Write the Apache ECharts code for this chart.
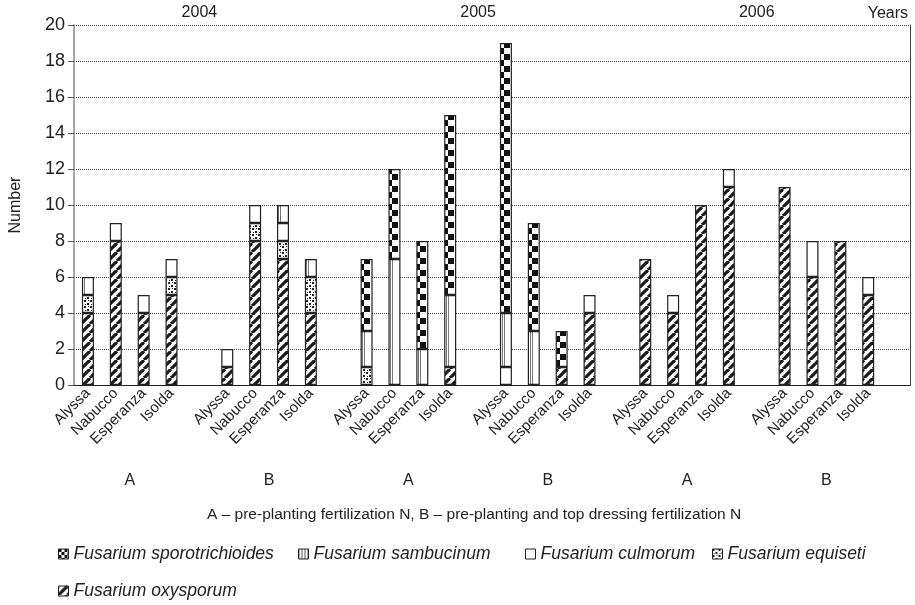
<!DOCTYPE html>
<html>
<head>
<meta charset="utf-8">
<script src="https://cdn.jsdelivr.net/npm/echarts@6/dist/echarts.min.js"></script>
<style>
    html, body { margin: 0; padding: 0; background: #fff; }
    #main { width: 915px; height: 605px; }
</style>
</head>
<body>
<div id="main"></div>
<script>
const cultivars = ['Alyssa', 'Nabucco', 'Esperanza', 'Isolda']
const groupLabels = ['A', 'B', 'A', 'B', 'A', 'B']
const yearLabels = ['2004', '2005', '2006']

// 6 groups x 4 cultivars: 2004 A, 2004 B, 2005 A, 2005 B, 2006 A, 2006 B
const oxysporum = [4, 8, 4, 5, 1, 8, 7, 4, 0, 0, 0, 1, 0, 0, 1, 4, 7, 4, 10, 11, 11, 6, 8, 5]
const equiseti = [1, 0, 0, 1, 0, 1, 1, 2, 1, 0, 0, 0, 0, 0, 0, 0, 0, 0, 0, 0, 0, 0, 0, 0]
const culmorum = [0, 1, 1, 1, 1, 1, 1, 0, 0, 0, 0, 0, 1, 0, 0, 1, 0, 1, 0, 1, 0, 2, 0, 1]
const sambucinum = [1, 0, 0, 0, 0, 0, 1, 1, 2, 7, 2, 4, 3, 3, 0, 0, 0, 0, 0, 0, 0, 0, 0, 0]
const sporotrichioides = [0, 0, 0, 0, 0, 0, 0, 0, 4, 5, 6, 10, 15, 6, 2, 0, 0, 0, 0, 0, 0, 0, 0, 0]

const yTicks = { min: 0, max: 20, interval: 2 }

function makePattern(w, h, draw) {
    const c = document.createElement('canvas')
    c.width = w
    c.height = h
    const ctx = c.getContext('2d')
    ctx.fillStyle = '#fff'
    ctx.fillRect(0, 0, w, h)
    draw(ctx)
    return { image: c, repeat: 'repeat' }
}

const stripes = makePattern(9, 9, ctx => {
    ctx.strokeStyle = '#1a1a1a'
    ctx.lineWidth = 3.2
    ;[-9, 0, 9].forEach(k => {
        ctx.beginPath()
        ctx.moveTo(k, 9)
        ctx.lineTo(k + 9, 0)
        ctx.stroke()
    })
})
const speckle = makePattern(6, 6, ctx => {
    ctx.fillStyle = '#222'
    ctx.fillRect(0, 0, 2, 2)
    ctx.fillRect(3, 3, 2, 2)
    ctx.fillRect(4, 0, 1, 1)
    ctx.fillRect(1, 4, 1, 1)
})
// bars sit at 78 + 28k, so these wide patterns line up with every bar
const checker = makePattern(28, 12, ctx => {
    ctx.fillStyle = '#111'
    ctx.fillRect(22, 0, 6, 6)
    ctx.fillRect(0, 6, 6, 6)
})
const vlines = makePattern(28, 4, ctx => {
    ctx.fillStyle = '#777'
    ctx.fillRect(0, 0, 1, 4)
    ctx.fillRect(26, 0, 1, 4)
})
const checkerIcon = makePattern(6, 6, ctx => {
    ctx.fillStyle = '#111'
    ctx.fillRect(0, 0, 3, 3)
    ctx.fillRect(3, 3, 3, 3)
})
const vlinesIcon = makePattern(3, 3, ctx => {
    ctx.fillStyle = '#555'
    ctx.fillRect(0, 0, 1, 3)
})

const categories = []
const topLabels = []
groupLabels.forEach((g, gi) => {
    cultivars.forEach(c => { categories.push(c); topLabels.push('') })
    categories.push('')
    topLabels.push(gi % 2 === 0 ? yearLabels[gi / 2] : '')
})

function withGaps(values) {
    const out = []
    values.forEach((v, i) => {
        out.push(v || '-')
        if (i % 4 === 3) out.push('-')
    })
    return out
}

const seriesDefs = [
    { name: 'Fusarium oxysporum', data: oxysporum, color: stripes, icon: stripes },
    { name: 'Fusarium equiseti', data: equiseti, color: speckle, icon: speckle },
    { name: 'Fusarium culmorum', data: culmorum, color: '#fff', icon: '#fff' },
    { name: 'Fusarium sambucinum', data: sambucinum, color: vlines, icon: vlinesIcon },
    { name: 'Fusarium sporotrichioides', data: sporotrichioides, color: checker, icon: checkerIcon }
]

// legend placement: [name, left, top]
const legendSlots = [
    ['Fusarium sporotrichioides', 53, 540],
    ['Fusarium sambucinum', 293, 540],
    ['Fusarium culmorum', 520, 540],
    ['Fusarium equiseti', 707, 540],
    ['Fusarium oxysporum', 53, 577]
]

const legendText = { fontSize: 17.5, fontStyle: 'italic', color: '#222', fontFamily: 'Liberation Sans' }

const option = {
    animation: false,
    textStyle: { fontFamily: 'Liberation Sans' },
    grid: { left: 70, right: 5, top: 25, bottom: 220 },
    legend: legendSlots.map(([name, left, top]) => {
        const s = seriesDefs.find(d => d.name === name)
        return {
            left: left,
            top: top,
            itemWidth: 10,
            itemHeight: 10,
            icon: 'rect',
            textStyle: legendText,
            data: [{ name: name, itemStyle: { color: s.icon, borderColor: '#222', borderWidth: 1 } }]
        }
    }),
    xAxis: [
        {
            type: 'category',
            data: categories,
            axisLine: { lineStyle: { color: '#333', width: 1.2 } },
            axisTick: { interval: 0, length: 5, lineStyle: { color: '#333' } },
            axisLabel: { interval: 0, rotate: 45, margin: 6, fontSize: 15, color: '#222' }
        },
        {
            type: 'category',
            position: 'top',
            data: topLabels,
            axisLine: { lineStyle: { color: '#222', width: 1.2 } },
            axisTick: { show: false },
            axisLabel: { interval: 0, margin: 4, fontSize: 16, color: '#222' }
        }
    ],
    yAxis: [
        {
            type: 'value',
            min: yTicks.min,
            max: yTicks.max,
            interval: yTicks.interval,
            name: 'Number',
            nameLocation: 'middle',
            nameGap: 50,
            nameTextStyle: { fontSize: 16, color: '#222' },
            axisLine: { show: true, lineStyle: { color: '#888', width: 1.5 } },
            axisTick: { show: true, length: 6, lineStyle: { color: '#555' } },
            axisLabel: { margin: 9, fontSize: 18, color: '#222' },
            splitLine: { lineStyle: { type: 'dotted', color: '#444', width: 1 } }
        },
        {
            type: 'value',
            position: 'right',
            min: yTicks.min,
            max: yTicks.max,
            interval: yTicks.interval,
            axisLine: { show: true, lineStyle: { color: '#444', width: 1 } },
            axisTick: { show: false },
            axisLabel: { show: false },
            splitLine: { show: false }
        }
    ],
    series: seriesDefs.map(s => ({
        name: s.name,
        type: 'bar',
        stack: 'total',
        barWidth: 12,
        data: withGaps(s.data),
        itemStyle: { color: s.color, borderColor: '#222', borderWidth: 1.2 },
        emphasis: { disabled: true }
    }))
}

const chart = echarts.init(document.getElementById('main'))
chart.setOption(option)

// group letters under each block of four bars
const graphics = groupLabels.map((g, gi) => {
    const x1 = chart.convertToPixel({ xAxisIndex: 0 }, gi * 5 + 1)
    const x2 = chart.convertToPixel({ xAxisIndex: 0 }, gi * 5 + 2)
    return {
        type: 'text',
        x: (x1 + x2) / 2,
        y: 481,
        style: { text: g, fontSize: 16, fill: '#222', align: 'center', verticalAlign: 'middle', fontFamily: 'Liberation Sans' }
    }
})
graphics.push({
    type: 'text',
    x: 207,
    y: 515,
    style: {
        text: 'A – pre-planting fertilization N, B – pre-planting and top dressing fertilization N',
        fontSize: 15.5, fill: '#222', align: 'left', verticalAlign: 'middle', fontFamily: 'Liberation Sans'
    }
})
graphics.push({
    type: 'text',
    x: 908,
    y: 14,
    style: { text: 'Years', fontSize: 16, fill: '#222', align: 'right', verticalAlign: 'middle', fontFamily: 'Liberation Sans' }
})
chart.setOption({ graphic: graphics })
</script>
</body>
</html>
